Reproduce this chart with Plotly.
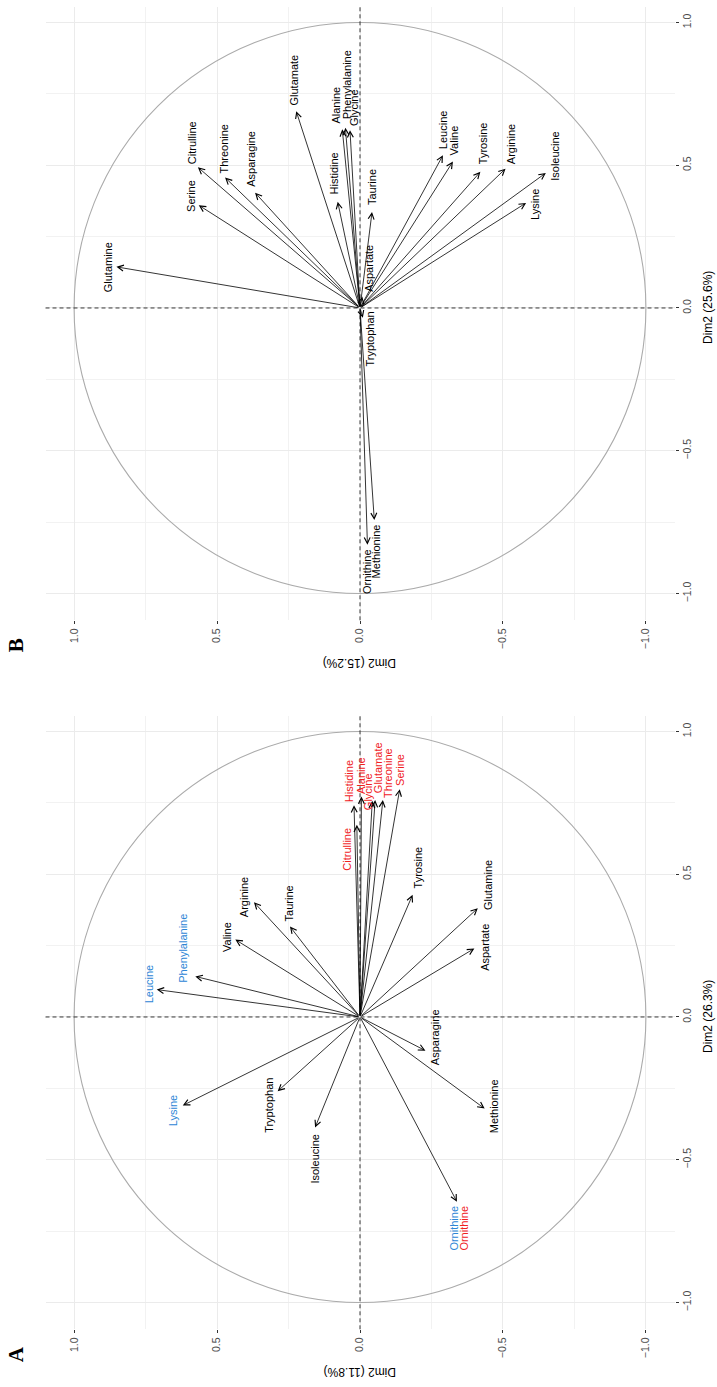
import plotly.graph_objects as go

# ---- Panel A: variable loadings on the two components ----
A_VARS = ["Leucine", "Phenylalanine", "Valine", "Arginine", "Taurine", "Tyrosine",
          "Glutamine", "Aspartate", "Asparagine", "Methionine", "Ornithine",
          "Isoleucine", "Tryptophan", "Lysine", "Citrulline", "Histidine",
          "Alanine", "Glycine", "Glutamate", "Threonine", "Serine"]
A_COMP1 = [0.096, 0.142, 0.271, 0.402, 0.317, 0.428, 0.381, 0.240, -0.118, -0.321,
           -0.647, -0.387, -0.260, -0.310, 0.673, 0.742, 0.772, 0.757, 0.760, 0.760, 0.798]
A_COMP2 = [0.711, 0.576, 0.436, 0.371, 0.245, -0.184, -0.412, -0.400, -0.229, -0.436,
           -0.339, 0.157, 0.288, 0.620, 0.011, 0.021, -0.005, -0.043, -0.053, -0.080, -0.139]
A_GROUP = ["blue", "blue", "", "", "", "", "", "", "", "", "both",
           "", "", "blue", "red", "red", "red", "red", "red", "red", "red"]

# ---- Panel B ----
B_VARS = ["Glutamine", "Serine", "Citrulline", "Threonine", "Asparagine", "Glutamate",
          "Histidine", "Alanine", "Phenylalanine", "Glycine", "Taurine", "Aspartate",
          "Tryptophan", "Leucine", "Valine", "Tyrosine", "Arginine", "Isoleucine",
          "Lysine", "Methionine", "Ornithine"]
B_COMP1 = [0.144, 0.360, 0.493, 0.457, 0.404, 0.689, 0.372, 0.626, 0.631, 0.623, 0.336,
           0.040, -0.034, 0.535, 0.513, 0.477, 0.488, 0.473, 0.368, -0.743, -0.829]
B_COMP2 = [0.852, 0.564, 0.567, 0.472, 0.367, 0.223, 0.078, 0.062, 0.051, 0.035, -0.042,
           -0.008, -0.010, -0.290, -0.325, -0.421, -0.509, -0.650, -0.581, -0.050, -0.026]

TICK_VALS = [-1.0, -0.5, 0.0, 0.5, 1.0]
TICK_TEXT = ["\u22121.0", "\u22120.5", "0.0", "0.5", "1.0"]
MINOR_VALS = [-0.75, -0.25, 0.25, 0.75]

TITLES = {"A": ("Dim2 (26.3%)", "Dim2 (11.8%)"), "B": ("Dim2 (25.6%)", "Dim2 (15.2%)")}

# label nudges in screen pixels (xshift, yshift), one per variable
A_SHIFT = [(-8, 6), (-12, 28), (-9, 3), (-10, 5), (0, 23), (5, 27), (10, 23), (11, 1),
           (9, 14), (9, 2), (-3, -26), (0, -31), (-8, -14), (-9, -5), (-10, -24),
           (-5, 24), (-1, 21), (-4, 9), (3, 32), (5, 27), (0, 19)]
B_SHIFT = [(-9, 0), (-8, 9), (-6, 25), (-2, 29), (-4, 34), (-2, 31), (-4, 28), (-6, 24),
           (1, 43), (4, 23), (0, 25), (6, 28), (7, -21), (0, 26), (1, 21), (2, 29),
           (5, 24), (9, 17), (9, -2), (2, -31), (-1, -27)]

W, H = 717, 1387
FONT = "Liberation Sans, Arial, sans-serif"
RED, BLUE = "#F0211E", "#2D86D6"

X_DOM = [45.5 / W, 674.5 / W]
Y_DOM = {"A": [1 - 1329.3 / H, 1 - 715.8 / H], "B": [1 - 620.3 / H, 1 - 6.8 / H]}
CENTER_Y = {"A": 1017, "B": 308}

fig = go.Figure()

axis_style = dict(
    showgrid=True, gridcolor="#EBEBEB", gridwidth=1, zeroline=False, showline=False,
    ticks="outside", ticklen=3, tickwidth=1, tickcolor="#333333",
    tickfont=dict(family=FONT, size=10.5, color="#4D4D4D"),
    tickmode="array", tickvals=TICK_VALS, ticktext=TICK_TEXT, tickangle=-90,
    minor=dict(tickmode="array", tickvals=MINOR_VALS, showgrid=True,
               gridcolor="#F2F2F2", gridwidth=0.6, ticks=""),
    fixedrange=True,
)

annotations = []
shapes = []

panels = [
    ("A", "x", "y", A_VARS, A_COMP1, A_COMP2, A_GROUP, A_SHIFT),
    ("B", "x2", "y2", B_VARS, B_COMP1, B_COMP2, [""] * len(B_VARS), B_SHIFT),
]

for key, xr, yr, names, c1, c2, groups, shifts in panels:
    # invisible tips so the subplot axes are instantiated
    fig.add_trace(go.Scatter(x=c2, y=c1, mode="markers", xaxis=xr, yaxis=yr,
                             marker=dict(opacity=0), hoverinfo="skip", showlegend=False))

    # unit correlation circle
    shapes.append(dict(type="circle", xref=xr, yref=yr, x0=-1, x1=1, y0=-1, y1=1,
                       line=dict(color="#ABABAB", width=1.1), layer="above"))
    # dashed reference lines through the origin
    shapes.append(dict(type="line", xref=xr, yref=yr + " domain", x0=0, x1=0, y0=0, y1=1,
                       line=dict(color="#222222", width=0.9, dash="4px,3px")))
    shapes.append(dict(type="line", xref=xr + " domain", yref=yr, x0=0, x1=1, y0=0, y1=0,
                       line=dict(color="#222222", width=0.9, dash="4px,3px")))

    for name, v1, v2, grp, (xs, ys) in zip(names, c1, c2, groups, shifts):
        # arrow from origin to loading
        annotations.append(dict(
            x=v2, y=v1, xref=xr, yref=yr, ax=0, ay=0, axref=xr, ayref=yr,
            text="", showarrow=True, arrowhead=5, arrowsize=1.45, arrowwidth=0.8,
            arrowcolor="#000000", standoff=0,
        ))
        if grp == "both":
            colors = [(BLUE, xs), (RED, xs + 10)]
        elif grp == "red":
            colors = [(RED, xs)]
        elif grp == "blue":
            colors = [(BLUE, xs)]
        else:
            colors = [("#000000", xs)]
        for col, sx in colors:
            annotations.append(dict(
                x=v2, y=v1, xref=xr, yref=yr, text=name, showarrow=False,
                textangle=-90, xshift=sx, yshift=ys, xanchor="center", yanchor="middle",
                font=dict(family=FONT, size=11, color=col),
            ))

    right_title, bottom_title = TITLES[key]
    cy = CENTER_Y[key]
    bottom_px = (1 - Y_DOM[key][0]) * H
    annotations.append(dict(
        x=708 / W, y=1 - cy / H, xref="paper", yref="paper", text=right_title,
        showarrow=False, textangle=-90, xanchor="center", yanchor="middle",
        font=dict(family=FONT, size=12, color="#000000"),
    ))
    annotations.append(dict(
        x=359.5 / W, y=1 - (bottom_px + 42) / H, xref="paper", yref="paper",
        text=bottom_title, showarrow=False, textangle=180, xanchor="center",
        yanchor="middle", font=dict(family=FONT, size=12, color="#000000"),
    ))
    annotations.append(dict(
        x=16 / W, y=1 - (bottom_px + 25) / H, xref="paper", yref="paper",
        text="<b>%s</b>" % key, showarrow=False, textangle=-90, xanchor="center",
        yanchor="middle", font=dict(family="Liberation Serif, Times New Roman, serif",
                                    size=21, color="#000000"),
    ))

fig.update_layout(
    width=W, height=H, autosize=False,
    margin=dict(l=0, r=0, t=0, b=0),
    paper_bgcolor="white", plot_bgcolor="white",
    showlegend=False,
    xaxis=dict(axis_style, domain=X_DOM, anchor="y", range=[1.1, -1.1]),
    yaxis=dict(axis_style, domain=Y_DOM["A"], anchor="x", side="right",
               range=[-1.094, 1.055]),
    xaxis2=dict(axis_style, domain=X_DOM, anchor="y2", range=[1.1, -1.1]),
    yaxis2=dict(axis_style, domain=Y_DOM["B"], anchor="x2", side="right",
                range=[-1.094, 1.055]),
    shapes=shapes,
    annotations=annotations,
)

fig.write_html("out.html")
